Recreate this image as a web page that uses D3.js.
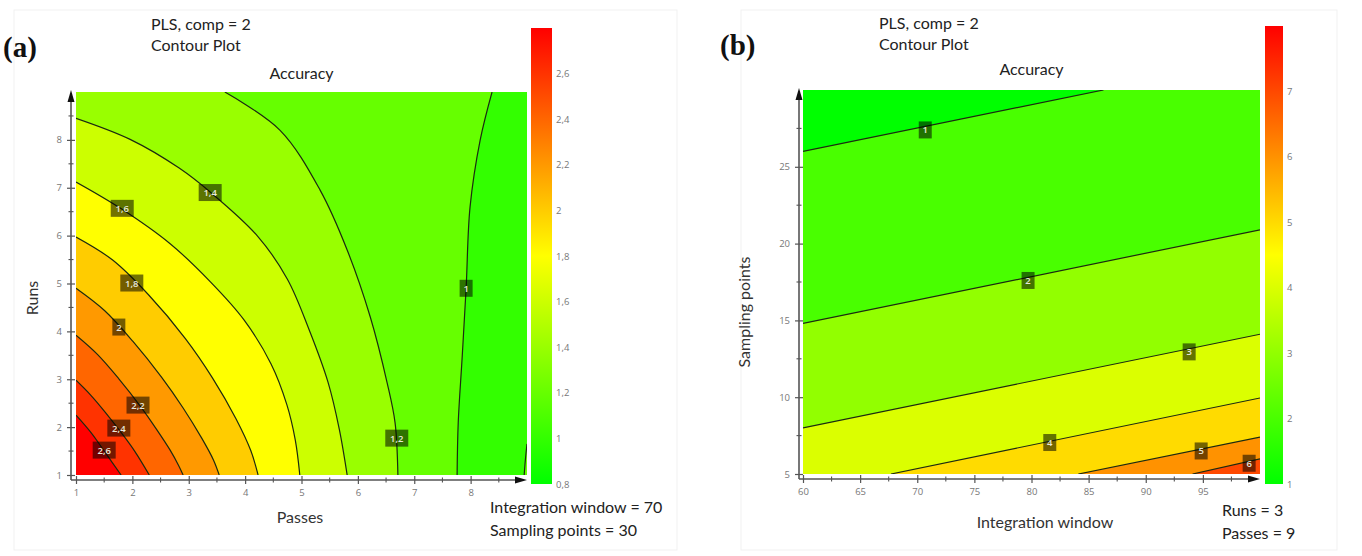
<!DOCTYPE html>
<html>
<head>
<meta charset="utf-8">
<script src="https://cdn.jsdelivr.net/npm/d3@7"></script>
<style>
  body { margin: 0; background: #fff; }
  text { font-family: Lato, "Open Sans", sans-serif; }
</style>
</head>
<body>
<svg id="fig" width="1362" height="556"></svg>
<script>
// ---------- datos panel (a): Accuracy vs Passes / Runs ----------
const passesTicks = [1, 2, 3, 4, 5, 6, 7, 8];
const runsTicks = [1, 2, 3, 4, 5, 6, 7, 8];
const colorbarTicksA = [0.8, 1, 1.2, 1.4, 1.6, 1.8, 2, 2.2, 2.4, 2.6];
const levelsA = [1.0, 1.2, 1.4, 1.6, 1.8, 2.0, 2.2, 2.4, 2.6];

// curvas de nivel, [passes, runs]
const contourA_1_0 = [[8.38, 9], [8.17, 8.0], [7.99, 6.6], [7.92, 4.9], [7.85, 3.46], [7.78, 2.09], [7.76, 1]];
const contourA_1_0b = [[9, 1.65], [8.97, 1.3], [8.95, 1]];
const contourA_1_2 = [[3.64, 9], [4.62, 8.2], [5.33, 6.95], [5.81, 5.7], [6.22, 4.3], [6.52, 2.92], [6.66, 2.09], [6.71, 1]];
const contourA_1_4 = [[1, 8.45], [1.96, 8.01], [2.83, 7.41], [3.40, 6.89], [4.22, 5.99], [4.75, 5.09], [5.13, 4.05], [5.47, 2.94], [5.67, 1.96], [5.81, 1]];
const contourA_1_6 = [[1, 7.12], [1.79, 6.57], [2.67, 5.83], [3.38, 5.04], [3.98, 4.24], [4.46, 3.32], [4.74, 2.47], [4.89, 1.73], [4.97, 1]];
const contourA_1_8 = [[1, 5.97], [1.65, 5.49], [2.29, 4.76], [2.94, 3.85], [3.42, 3.03], [3.84, 2.17], [4.10, 1.51], [4.23, 1]];
const contourA_2_0 = [[1, 4.90], [1.51, 4.43], [2.01, 3.79], [2.52, 3.04], [2.90, 2.40], [3.23, 1.77], [3.44, 1.31], [3.54, 1]];
const contourA_2_2 = [[1, 3.92], [1.38, 3.52], [1.76, 3.01], [2.14, 2.44], [2.42, 1.97], [2.67, 1.52], [2.82, 1.20], [2.90, 1]];
const contourA_2_4 = [[1, 2.98], [1.26, 2.67], [1.52, 2.31], [1.78, 1.92], [2.04, 1.50], [2.30, 1]];
const contourA_2_6 = [[1, 2.25], [1.27, 1.88], [1.53, 1.45], [1.80, 1]];

// etiquetas de las curvas [valor, passes, runs]
const labelsA = [[1.0, 7.92, 4.90], [1.2, 6.69, 1.77], [1.4, 3.38, 6.90], [1.6, 1.82, 6.57], [1.8, 1.99, 5.01],
                 [2.0, 1.76, 4.09], [2.2, 2.10, 2.46], [2.4, 1.76, 1.98], [2.6, 1.50, 1.52]];

// ---------- datos panel (b): Accuracy vs Integration window / Sampling points ----------
const windowTicks = [60, 65, 70, 75, 80, 85, 90, 95];
const samplingTicks = [5, 10, 15, 20, 25];
const colorbarTicksB = [1, 2, 3, 4, 5, 6, 7];
const levelsB = [1, 2, 3, 4, 5, 6];

const contourB_1 = [[60, 26.0], [86.3, 30]];
const contourB_2 = [[60, 14.8], [100, 20.9]];
const contourB_3 = [[60, 8.0], [100, 14.1]];
const contourB_4 = [[67.7, 5], [100, 9.95]];
const contourB_5 = [[84.1, 5], [100, 7.4]];
const contourB_6 = [[94.1, 5], [100, 5.98]];

const labelsB = [[1, 70.7, 27.4], [2, 79.7, 17.6], [3, 93.8, 12.95], [4, 81.6, 7.05], [5, 94.85, 6.5], [6, 99.05, 5.7]];

const svg = d3.select("#fig");
const fmt = v => d3.format(".1~f")(v).replace(".", ",");
const greenYellowRed = ["#00ff00", "#ffff00", "#ff0000"];

// marcos muy tenues de cada panel
svg.append("rect").attr("x", 14).attr("y", 10).attr("width", 663).attr("height", 540)
  .attr("fill", "none").attr("stroke", "#f1f1f1");
svg.append("rect").attr("x", 741).attr("y", 10).attr("width", 596).attr("height", 540)
  .attr("fill", "none").attr("stroke", "#f1f1f1");

const renderPanel = (p) => {
  const x = d3.scaleLinear().domain(p.xDomain).range([p.left, p.right]);
  const y = d3.scaleLinear().domain(p.yDomain).range([p.bottom, p.top]);
  const color = d3.scaleLinear().domain(p.colorDomain).range(greenYellowRed);
  const g = svg.append("g");

  // zona de dibujo recortada
  svg.append("clipPath").attr("id", "clip-" + p.id).append("rect")
    .attr("x", p.left).attr("y", p.top)
    .attr("width", p.right - p.left).attr("height", p.bottom - p.top);
  const plot = g.append("g").attr("clip-path", `url(#clip-${p.id})`);

  plot.append("rect")
    .attr("x", p.left).attr("y", p.top)
    .attr("width", p.right - p.left).attr("height", p.bottom - p.top)
    .attr("fill", color(p.levels[0]));

  const line = d3.line().x(d => x(d[0])).y(d => y(d[1])).curve(p.curve);

  // bandas rellenas, de menor a mayor nivel
  p.contours.forEach(c => {
    const d = line(c.pts) + c.close.map(q => `L${x(q[0])},${y(q[1])}`).join("") + "Z";
    plot.append("path").attr("d", d).attr("fill", color(c.level + p.step));
  });
  // lineas de nivel
  p.contours.forEach(c => {
    plot.append("path").attr("d", line(c.pts))
      .attr("fill", "none").attr("stroke", "#1c2a10").attr("stroke-width", 1.2);
  });
  // etiquetas
  p.labels.forEach(([v, lx, ly]) => {
    const t = fmt(v);
    const w = 8 + 5 * t.length;
    plot.append("rect").attr("x", x(lx) - w / 2).attr("y", y(ly) - 8.5)
      .attr("width", w).attr("height", 17).attr("fill", "#000").attr("fill-opacity", 0.55);
    plot.append("text").attr("x", x(lx)).attr("y", y(ly) + 3.5)
      .attr("text-anchor", "middle").attr("fill", "#e8e8dc")
      .style("font", "600 9.5px 'Open Sans'").text(t);
  });

  // ejes con flecha
  const axisColor = "#555";
  g.append("line").attr("x1", p.yAxisX).attr("x2", p.right - 6).attr("y1", p.xAxisY).attr("y2", p.xAxisY)
    .attr("stroke", axisColor).attr("stroke-width", 1.6);
  g.append("line").attr("x1", p.yAxisX).attr("x2", p.yAxisX).attr("y1", p.xAxisY).attr("y2", p.top + 6)
    .attr("stroke", axisColor).attr("stroke-width", 1.6);
  g.append("path").attr("d", `M${p.right},${p.xAxisY}L${p.right - 12},${p.xAxisY - 3.5}L${p.right - 12},${p.xAxisY + 3.5}Z`).attr("fill", "#111");
  g.append("path").attr("d", `M${p.yAxisX},${p.top - 2}L${p.yAxisX - 3.5},${p.top + 10}L${p.yAxisX + 3.5},${p.top + 10}Z`).attr("fill", "#111");

  const gx = g.append("g").attr("transform", `translate(0,${p.xAxisY})`)
    .call(d3.axisBottom(x).tickValues(p.xTicks).tickFormat(fmt).tickSizeOuter(0));
  gx.select(".domain").remove();
  gx.selectAll("line").attr("y1", -4).attr("y2", 4).attr("stroke", axisColor).attr("stroke-width", 1.2);
  gx.selectAll("text").attr("y", 9).attr("fill", "#777").style("font", "9.5px 'Open Sans'");

  const gy = g.append("g").attr("transform", `translate(${p.yAxisX},0)`)
    .call(d3.axisLeft(y).tickValues(p.yTicks).tickFormat(fmt).tickSizeOuter(0));
  gy.select(".domain").remove();
  gy.selectAll("line").attr("x1", -4).attr("x2", 4).attr("stroke", axisColor).attr("stroke-width", 1.2);
  gy.selectAll("text").attr("x", -9).attr("fill", "#777").style("font", "9.5px 'Open Sans'");

  // ticks menores
  g.selectAll(null).data(p.xMinor).enter().append("line")
    .attr("x1", d => x(d)).attr("x2", d => x(d)).attr("y1", p.xAxisY - 2.5).attr("y2", p.xAxisY + 2.5)
    .attr("stroke", axisColor).attr("stroke-width", 1.1);
  g.selectAll(null).data(p.yMinor).enter().append("line")
    .attr("y1", d => y(d)).attr("y2", d => y(d)).attr("x1", p.yAxisX - 2.5).attr("x2", p.yAxisX + 2.5)
    .attr("stroke", axisColor).attr("stroke-width", 1.1);

  // barra de color
  const cb = d3.scaleLinear().domain(p.cbDomain).range([p.cbBottom, p.cbTop]);
  const grad = svg.append("defs").append("linearGradient").attr("id", "grad-" + p.id)
    .attr("x1", 0).attr("y1", 1).attr("x2", 0).attr("y2", 0);
  grad.selectAll("stop").data([0, 0.5, 1]).enter().append("stop")
    .attr("offset", d => d).attr("stop-color", d => greenYellowRed[d * 2]);
  g.append("rect").attr("x", p.cbX).attr("y", p.cbTop).attr("width", p.cbW)
    .attr("height", p.cbBottom - p.cbTop).attr("fill", `url(#grad-${p.id})`);
  g.selectAll(null).data(p.cbTicks).enter().append("text")
    .attr("x", p.cbX + p.cbW + 4).attr("y", d => cb(d) + 3.5)
    .attr("fill", "#777").style("font", "9.5px 'Open Sans'").text(fmt);

  // textos
  g.append("text").attr("x", p.tagX).attr("y", p.tagY).text(p.tag)
    .style("font", "bold 29px 'Liberation Serif'").attr("fill", "#111");
  g.append("text").attr("x", p.headX).attr("y", p.headY).text("PLS, comp = 2")
    .style("font-size", "16px").attr("fill", "#222");
  g.append("text").attr("x", p.headX).attr("y", p.headY + 21).text("Contour Plot")
    .style("font-size", "16px").attr("fill", "#222");
  g.append("text").attr("x", (p.left + p.right) / 2).attr("y", p.titleY).text("Accuracy")
    .attr("text-anchor", "middle").style("font-size", "16px").attr("fill", "#222");
  g.append("text").attr("x", p.xLabelX).attr("y", p.xLabelY).text(p.xLabel)
    .attr("text-anchor", "middle").style("font-size", "16px").attr("fill", "#333");
  g.append("text").attr("transform", `translate(${p.yLabelX},${p.yLabelY}) rotate(-90)`).text(p.yLabel)
    .attr("text-anchor", "middle").style("font-size", "16px").attr("fill", "#333");
  p.notes.forEach((t, i) => {
    g.append("text").attr("x", p.noteX).attr("y", p.noteY + i * 23).text(t)
      .style("font-size", "16px").attr("fill", "#222");
  });
};

renderPanel({
  id: "a", tag: "(a)", tagX: 3, tagY: 57, headX: 151, headY: 30, titleY: 79,
  left: 76, right: 527, top: 92, bottom: 475, xAxisY: 480, yAxisX: 71,
  xDomain: [1, 9], yDomain: [1, 9], xTicks: passesTicks, yTicks: runsTicks,
  xMinor: d3.range(1.5, 9, 1), yMinor: d3.range(1.5, 9, 1),
  colorDomain: [0.8, 1.8, 2.8], levels: levelsA, step: 0.2, curve: d3.curveCatmullRom,
  contours: [
    { level: 1.0, pts: contourA_1_0, close: [[1, 1], [1, 9]] },
    { level: 1.0, pts: contourA_1_0b, close: [[9, 1]] },
    { level: 1.2, pts: contourA_1_2, close: [[1, 1], [1, 9]] },
    { level: 1.4, pts: contourA_1_4, close: [[1, 1]] },
    { level: 1.6, pts: contourA_1_6, close: [[1, 1]] },
    { level: 1.8, pts: contourA_1_8, close: [[1, 1]] },
    { level: 2.0, pts: contourA_2_0, close: [[1, 1]] },
    { level: 2.2, pts: contourA_2_2, close: [[1, 1]] },
    { level: 2.4, pts: contourA_2_4, close: [[1, 1]] },
    { level: 2.6, pts: contourA_2_6, close: [[1, 1]] }
  ],
  labels: labelsA,
  cbDomain: [0.8, 2.8], cbTop: 28, cbBottom: 484, cbX: 531, cbW: 21, cbTicks: colorbarTicksA,
  xLabel: "Passes", xLabelX: 300, xLabelY: 523, yLabel: "Runs", yLabelX: 38, yLabelY: 298,
  notes: ["Integration window = 70", "Sampling points = 30"], noteX: 490, noteY: 513
});

renderPanel({
  id: "b", tag: "(b)", tagX: 720, tagY: 55, headX: 879, headY: 29, titleY: 75,
  left: 803, right: 1260, top: 90, bottom: 474, xAxisY: 479, yAxisX: 799,
  xDomain: [60, 100], yDomain: [5, 30], xTicks: windowTicks, yTicks: samplingTicks,
  xMinor: d3.range(62.5, 100, 5), yMinor: d3.range(7.5, 30, 5),
  colorDomain: [1, 4.5, 8], levels: levelsB, step: 1, curve: d3.curveLinear,
  contours: [
    { level: 1, pts: contourB_1, close: [[100, 30], [100, 5], [60, 5]] },
    { level: 2, pts: contourB_2, close: [[100, 5], [60, 5]] },
    { level: 3, pts: contourB_3, close: [[100, 5], [60, 5]] },
    { level: 4, pts: contourB_4, close: [[100, 5]] },
    { level: 5, pts: contourB_5, close: [[100, 5]] },
    { level: 6, pts: contourB_6, close: [[100, 5]] }
  ],
  labels: labelsB,
  cbDomain: [1, 8], cbTop: 26, cbBottom: 484, cbX: 1265, cbW: 18, cbTicks: colorbarTicksB,
  xLabel: "Integration window", xLabelX: 1045, xLabelY: 528, yLabel: "Sampling points", yLabelX: 750, yLabelY: 312,
  notes: ["Runs = 3", "Passes = 9"], noteX: 1222, noteY: 516
});
</script>
</body>
</html>
